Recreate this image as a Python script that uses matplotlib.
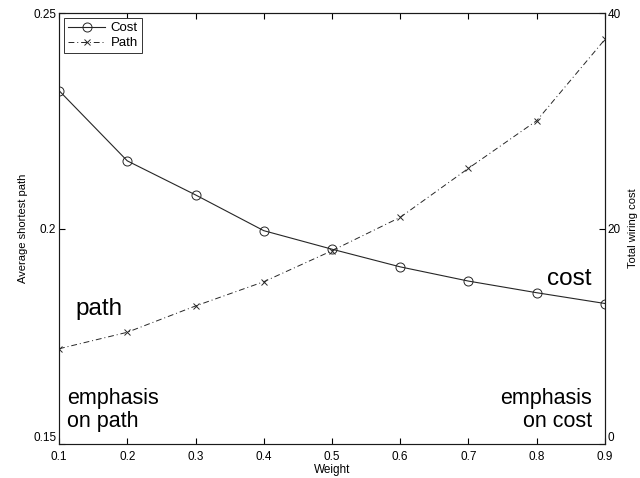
import numpy as np
import matplotlib
matplotlib.use("Agg")
import matplotlib.pyplot as plt

plt.rcParams['font.family'] = ['Liberation Sans', 'DejaVu Sans']

weight = [0.1, 0.2, 0.3, 0.4, 0.5, 0.6, 0.7, 0.8, 0.9]
# left axis (Average shortest path)
cost = [0.2320, 0.2157, 0.2078, 0.1995, 0.1952, 0.1911, 0.1878, 0.1851, 0.1826]
# right axis (Total wiring cost)
path = [8.84, 10.37, 12.81, 15.06, 17.94, 21.04, 25.59, 30.01, 37.56]

fig = plt.figure(figsize=(6.4, 4.78), dpi=100)
ax = fig.add_axes([0.0922, 0.0711, 0.8531, 0.9017])
ax2 = ax.twinx()

l1, = ax.plot(weight, cost, '-', color='0.15', lw=0.8, marker='o',
              ms=6.5, mfc='none', mec='0.15', mew=0.7, label='Cost')
l2, = ax2.plot(weight, path, linestyle=(0, (6, 3, 1, 3)), color='0.15',
               lw=0.7, marker='x', ms=4, mec='0.15', mew=0.7, label='Path')

ax.set_xlim(0.1, 0.9)
ax.set_ylim(0.15, 0.25)
ax2.set_ylim(0, 40)
ax.set_xticks(weight)
ax.set_xticklabels([f"{w:.1f}" for w in weight])
ax.set_yticks([0.15, 0.2, 0.25])
ax.set_yticklabels(['0.15', '0.2', '0.25'])
ax2.set_yticks([0, 20, 40])

ax.tick_params(axis='x', direction='in', top=True, labelsize=8.5, length=4, pad=5)
ax.tick_params(axis='y', direction='in', labelsize=8.5, length=4, pad=2)
ax2.tick_params(axis='y', direction='in', labelsize=8.5, length=4, pad=2)
# lift the bottom labels a little, as in the original
ax.get_yticklabels()[0].set_va('bottom')
ax2.get_yticklabels()[0].set_va('bottom')
for a in (ax, ax2):
    for s in a.spines.values():
        s.set_linewidth(0.8)
        s.set_color('0.1')
ax.spines['left'].set_color('0.45')
ax.spines['bottom'].set_color('0.45')

ax.set_xlabel('Weight', fontsize=8.5, labelpad=1)
ax.set_ylabel('Average shortest path', fontsize=8, labelpad=4)
ax2.set_ylabel('Total wiring cost', fontsize=8, labelpad=5)

leg = ax.legend(handles=[l1, l2], loc='upper left', fontsize=9.5,
                fancybox=False, edgecolor='0.2', framealpha=1,
                handlelength=2.8, borderpad=0.3, labelspacing=0.2,
                handletextpad=0.4, borderaxespad=0.4)
leg.get_frame().set_linewidth(0.7)

ax.text(0.031, 0.299, 'path', transform=ax.transAxes, fontsize=17.5,
        ha='left', va='baseline')
ax.text(0.976, 0.369, 'cost', transform=ax.transAxes, fontsize=17.5,
        ha='right', va='baseline')
ax.text(0.0147, 0.027, 'emphasis\non path', transform=ax.transAxes,
        fontsize=15.5, ha='left', va='bottom', linespacing=1.15)
ax.text(0.976, 0.027, 'emphasis\non cost', transform=ax.transAxes,
        fontsize=15.5, ha='right', va='bottom', multialignment='right',
        linespacing=1.15)

fig.savefig('out.png', dpi=100)
